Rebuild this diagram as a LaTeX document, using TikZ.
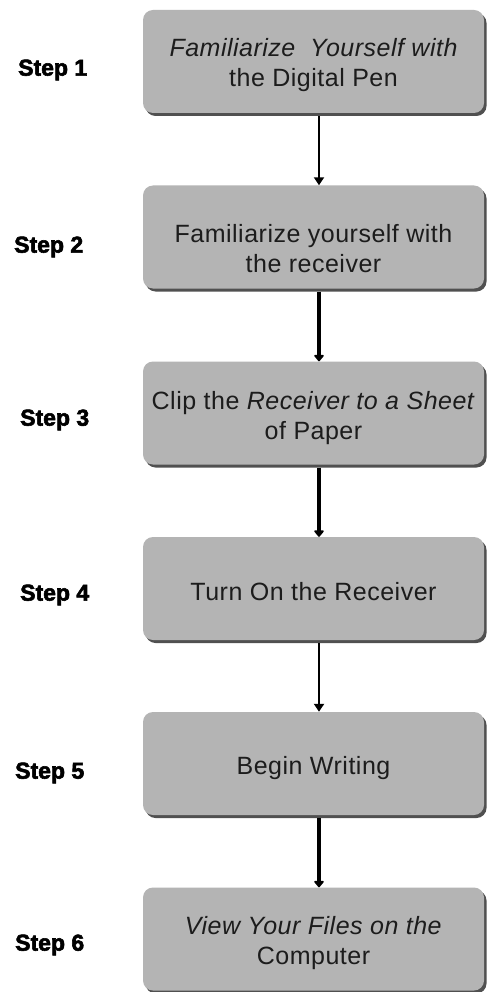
\documentclass[tikz,border=0pt]{standalone}
\usepackage{fontspec}
\setmainfont{Liberation Sans}[LetterSpace=2]
\newfontfamily\stepfont{Liberation Sans}[BoldFeatures={FakeBold=2.5}]
\usetikzlibrary{arrows.meta,shadows}
\definecolor{boxgray}{HTML}{B4B4B4}
\definecolor{shadowgray}{HTML}{505050}
\definecolor{txt}{HTML}{1C1C1C}
\tikzset{
  stepbox/.style={rectangle, rounded corners=10pt, fill=boxgray, draw=none,
    minimum width=341pt, minimum height=103pt, inner sep=0pt,
    drop shadow={shadow xshift=2.5pt, shadow yshift=-3pt, fill=shadowgray, opacity=1}},
  boxtext/.style={align=center, text=txt, font=\fontsize{25}{30}\selectfont, inner sep=0pt},
  steplabel/.style={anchor=west, inner sep=0pt, text=black, font=\stepfont\bfseries\fontsize{23}{25}\selectfont},
  thinarrow/.style={line width=2pt, -{Triangle[width=10pt,length=8pt]}},
  thickarrow/.style={line width=4pt, -{Triangle[width=11pt,length=7pt,round]}}
}
\begin{document}
\begin{tikzpicture}[x=1pt,y=-1pt]
\useasboundingbox (0,0) rectangle (489,992);
\fill[white] (0,0) rectangle (489,992);

\node[stepbox] (b1) at (313.5,61.5) {};
\node[stepbox] (b2) at (313.5,237) {};
\node[stepbox] (b3) at (313.5,413) {};
\node[stepbox] (b4) at (313.5,588.5) {};
\node[stepbox] (b5) at (313.5,763.5) {};
\node[stepbox] (b6) at (313.5,939) {};

\node[boxtext] (t1) at ([yshift=-4pt]b1.center) {\itshape Familiarize\ \ Yourself with\\the Digital Pen};
\node[boxtext] (t2) at ([yshift=-12pt]b2.center) {Familiarize yourself with\\the receiver};
\node[boxtext] (t3) at ([yshift=-5pt]b3.center) {Clip the \textit{Receiver to a Sheet}\\of Paper};
\node[boxtext] (t4) at ([yshift=-3pt]b4.center) {Turn On the Receiver};
\node[boxtext] (t5) at ([yshift=-5pt]b5.center) {Begin Writing};
\node[boxtext] (t6) at ([yshift=-4pt]b6.center) {\textit{View Your Files on the}\\Computer};

\node[steplabel] (s1) at (18,70) {Step 1};
\node[steplabel] (s2) at (14,247) {Step 2};
\node[steplabel] (s3) at (20,420) {Step 3};
\node[steplabel] (s4) at (20,595) {Step 4};
\node[steplabel] (s5) at (15,773) {Step 5};
\node[steplabel] (s6) at (15,945) {Step 6};

\draw[thinarrow] ([xshift=5.5pt,yshift=-3pt]b1.south) -- ([xshift=5.5pt]b2.north);
\draw[thickarrow] ([xshift=5.5pt,yshift=-3pt]b2.south) -- ([xshift=5.5pt]b3.north);
\draw[thickarrow] ([xshift=5.5pt,yshift=-3pt]b3.south) -- ([xshift=5.5pt]b4.north);
\draw[thinarrow] ([xshift=5.5pt,yshift=-3pt]b4.south) -- ([xshift=5.5pt]b5.north);
\draw[thickarrow] ([xshift=5.5pt,yshift=-3pt]b5.south) -- ([xshift=5.5pt]b6.north);
\end{tikzpicture}
\end{document}
